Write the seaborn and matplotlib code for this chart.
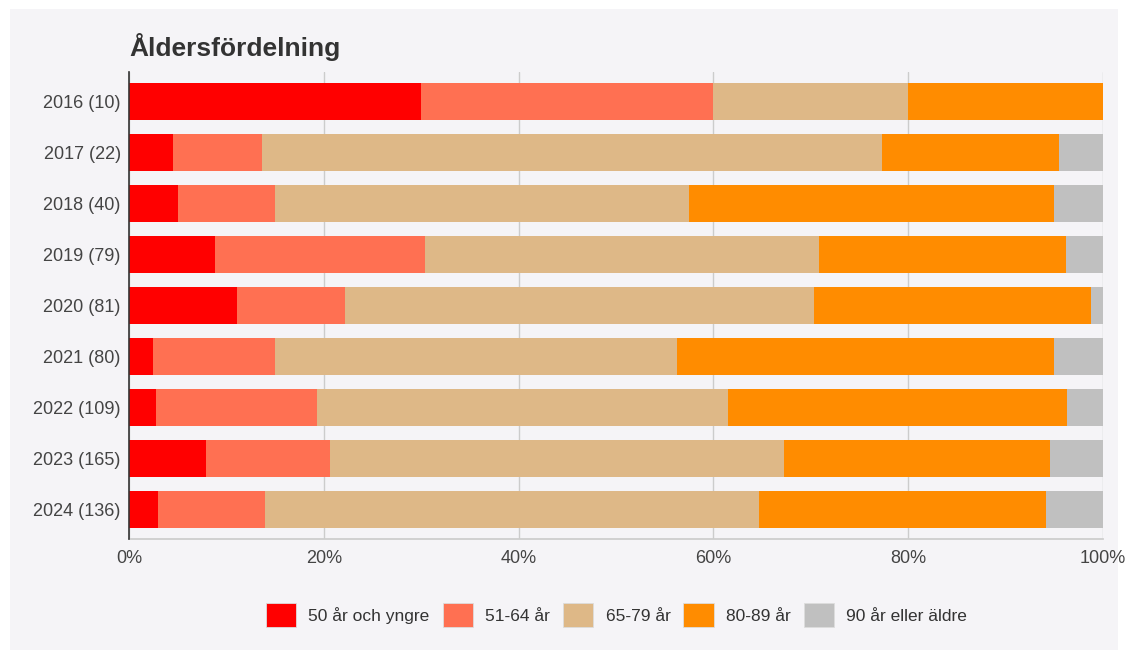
import matplotlib
matplotlib.use("Agg")
import matplotlib.pyplot as plt
from matplotlib.patches import Patch, Rectangle
import numpy as np
import pandas as pd
import seaborn as sns

# Patients per year and age group (counts)
years = ["2016", "2017", "2018", "2019", "2020", "2021", "2022", "2023", "2024"]
age_groups = ["50 år och yngre", "51-64 år", "65-79 år", "80-89 år", "90 år eller äldre"]
under_50 = [3, 1, 2, 7, 9, 2, 3, 13, 4]
age_51_64 = [3, 2, 4, 17, 9, 10, 18, 21, 15]
age_65_79 = [2, 14, 17, 32, 39, 33, 46, 77, 69]
age_80_89 = [2, 4, 15, 20, 23, 31, 38, 45, 40]
age_90_plus = [0, 1, 2, 3, 1, 4, 4, 9, 8]
colors = ["#ff0000", "#ff7052", "#deb887", "#ff8c00", "#c0c0c0"]

counts = np.array([under_50, age_51_64, age_65_79, age_80_89, age_90_plus], dtype=float)
totals = counts.sum(axis=0)
labels = [f"{y} ({int(n)})" for y, n in zip(years, totals)]
shares = counts / totals * 100
cumulative = np.cumsum(shares, axis=0)

df = pd.DataFrame({"label": labels})
for i in range(len(age_groups)):
    df[f"cum{i}"] = cumulative[i]

sns.set_theme(style="white")
plt.rcParams["font.family"] = ["Liberation Sans", "DejaVu Sans"]

bg = "#f5f4f7"
fig = plt.figure(figsize=(11.27, 6.59), dpi=100, facecolor="white")
fig.patches.append(Rectangle((10 / 1127, 9 / 659), 1108 / 1127, 641 / 659,
                             transform=fig.transFigure, facecolor=bg,
                             edgecolor="none", zorder=-10))
ax = fig.add_axes([129 / 1127, 1 - 539 / 659, 974 / 1127, 467 / 659])
ax.set_facecolor(bg)

# Stacked bars: draw cumulative totals from the outermost segment inward
for i in reversed(range(len(age_groups))):
    sns.barplot(data=df, x=f"cum{i}", y="label", orient="h", color=colors[i],
                width=0.72, linewidth=0, saturation=1, ax=ax, zorder=3)

ax.set_xlim(0, 100)
ax.set_ylim(8.57, -0.57)
ax.set_xticks(np.arange(0, 101, 20))
ax.set_xticklabels([f"{v}%" for v in range(0, 101, 20)])
ax.set_xlabel("")
ax.set_ylabel("")
ax.set_axisbelow(True)
ax.grid(axis="x", color="#cccccc", linewidth=1)
ax.grid(axis="y", visible=False)
for side in ["top", "right"]:
    ax.spines[side].set_visible(False)
ax.spines["bottom"].set_color("#cccccc")
ax.spines["left"].set_color("#333333")
ax.spines["left"].set_linewidth(1.2)
ax.spines["left"].set_zorder(5)
ax.tick_params(axis="both", length=0, labelsize=13, colors="#444444")
ax.tick_params(axis="y", pad=6)
ax.tick_params(axis="x", pad=8)

fig.text(129 / 1127, 1 - 47 / 659, "Åldersfördelning", fontsize=19,
         fontweight="bold", color="#333333", va="center", ha="left")

handles = [Patch(facecolor=c, edgecolor="#dddddd", linewidth=0.6) for c in colors]
fig.legend(handles, age_groups, loc="center", bbox_to_anchor=(0.547, 1 - 615 / 659),
           ncol=5, frameon=False, fontsize=12.5, handlelength=1.75, handleheight=1.75,
           handletextpad=0.7, columnspacing=0.75, labelcolor="#333333")

fig.savefig("out.png", dpi=100, facecolor="white")
